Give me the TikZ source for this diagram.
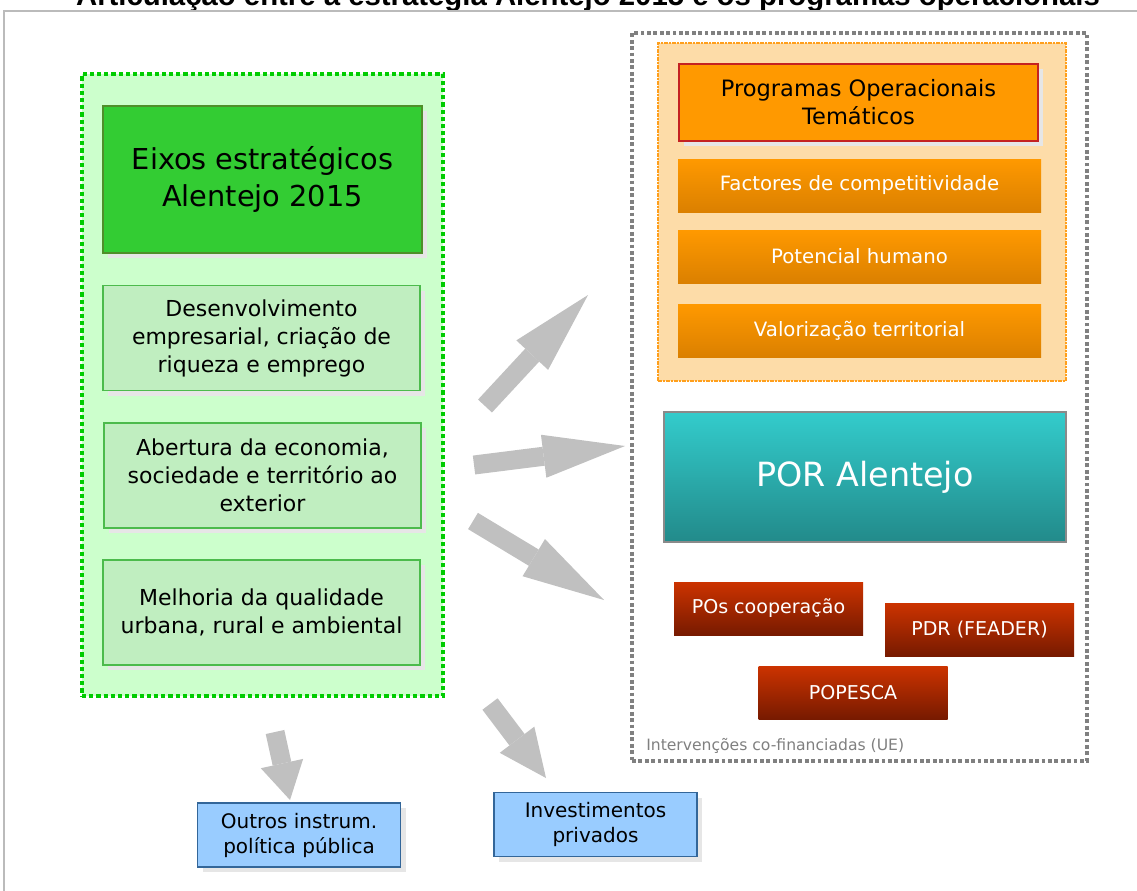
\documentclass[tikz,border=0pt]{standalone}
\usepackage{fontspec}
\setmainfont{DejaVu Sans}
\newfontfamily\titlefont{Liberation Sans}
\usepackage{tikz}
\usetikzlibrary{positioning,arrows.meta,shadows}

\definecolor{framegray}{HTML}{BBBBBB}
\definecolor{zonegreen}{HTML}{CCFFCC}
\definecolor{zonegreenline}{HTML}{00CC00}
\definecolor{headgreen}{HTML}{33CC33}
\definecolor{headgreenline}{HTML}{4F8F2A}
\definecolor{subgreen}{HTML}{C0EEC0}
\definecolor{subgreenline}{HTML}{4CBB4C}
\definecolor{shadowgray}{HTML}{E6E6E6}
\definecolor{zonegray}{HTML}{808080}
\definecolor{zoneorange}{HTML}{FDDCA8}
\definecolor{zoneorangeline}{HTML}{FF9F1C}
\definecolor{potop}{HTML}{FF9900}
\definecolor{potopline}{HTML}{C42222}
\definecolor{orangetop}{HTML}{FF9900}
\definecolor{orangebot}{HTML}{DB8000}
\definecolor{portop}{HTML}{33CCCC}
\definecolor{porbot}{HTML}{228A8A}
\definecolor{porline}{HTML}{8A8A8A}
\definecolor{redtop}{HTML}{CC3300}
\definecolor{redbot}{HTML}{771A00}
\definecolor{bluebox}{HTML}{99CCFF}
\definecolor{blueboxline}{HTML}{336699}
\definecolor{arrowgray}{HTML}{C0C0C0}

\newlength{\pxu}
\setlength{\pxu}{0.75pt}

\tikzset{
  box/.style={rectangle, inner sep=0pt, align=center},
  shadowed/.style={drop shadow={shadow xshift=3.75pt, shadow yshift=-3.75pt, fill=shadowgray, opacity=1}},
  eixo/.style={box, shadowed, draw=subgreenline, fill=subgreen, line width=1.1pt,
               minimum width=317*\pxu, minimum height=105*\pxu, font=\fontsize{16.5}{21}\selectfont},
  tema/.style={box, top color=orangetop, bottom color=orangebot, text=white,
               minimum width=363*\pxu, minimum height=53*\pxu, font=\fontsize{14.8}{18}\selectfont},
  fundo/.style={box, top color=redtop, bottom color=redbot, text=white,
                minimum width=189*\pxu, minimum height=53*\pxu, font=\fontsize{14.3}{18}\selectfont},
  outro/.style={box, shadowed, draw=blueboxline, fill=bluebox, line width=1.1pt,
                minimum width=203*\pxu, minimum height=64*\pxu, font=\fontsize{15}{18.75}\selectfont},
  seta/.style={line width=14.25pt, draw=arrowgray, -{Triangle[length=#1, width=32.5pt, line width=0pt]}},
  seta/.default=61.5pt,
}

\begin{document}
\begin{tikzpicture}[x=0.75pt, y=-0.75pt]
  \useasboundingbox (0,0) rectangle (1137,890);
  \fill[white] (0,0) rectangle (1137,890);
  \clip (0,0) rectangle (1137,890);

  \node[anchor=base, font=\titlefont\bfseries\fontsize{22}{26}\selectfont] (titulo) at (588,5)
    {Articulação entre a estratégia Alentejo 2015 e os programas operacionais};
  \draw[framegray, line width=1.5pt] (4,900) -- (4,11) -- (1150,11);

  % eixos estrategicos
  \node[box, fill=zonegreen, draw=zonegreenline, line width=3pt, dash pattern=on 3.2pt off 2.2pt,
        minimum width=361*\pxu, minimum height=622*\pxu] (eixos) at (262.5,385) {};
  \node[box, shadowed, fill=headgreen, draw=headgreenline, line width=1.1pt,
        minimum width=319*\pxu, minimum height=147*\pxu, font=\fontsize{21.6}{27.75}\selectfont]
        (cabeca) at (262.5,179.5) {Eixos estratégicos\\Alentejo 2015};
  \node[eixo] (eixo1) at (261.5,338) {Desenvolvimento\\empresarial, criação de\\riqueza e emprego};
  \node[eixo] (eixo2) at (262.5,475.5) {Abertura da economia,\\sociedade e território ao\\exterior};
  \node[eixo] (eixo3) at (261.5,612.5) {Melhoria da qualidade\\urbana, rural e ambiental};

  % intervencoes co-financiadas
  \node[box, draw=zonegray, line width=2.5pt, dash pattern=on 2.8pt off 2pt,
        minimum width=455*\pxu, minimum height=728*\pxu] (ue) at (859.5,397) {};
  \node[box, fill=zoneorange, draw=zoneorangeline, line width=0.8pt,
        dash pattern=on 3pt off 1pt on 1pt off 1pt,
        minimum width=408*\pxu, minimum height=338*\pxu] (temas) at (862,212) {};
  \node[box, shadowed, fill=potop, draw=potopline, line width=1.1pt,
        minimum width=359*\pxu, minimum height=77*\pxu, font=\fontsize{16.9}{21}\selectfont]
        (pot) at (858.5,102.5) {Programas Operacionais\\Temáticos};
  \node[tema] (factores) at (859.5,185.5) {Factores de competitividade};
  \node[tema] (potencial) at (859.5,256.5) {Potencial humano};
  \node[tema] (valorizacao) at (859.5,330.5) {Valorização territorial};
  \node[box, top color=portop, bottom color=porbot, draw=porline, line width=1pt, text=white,
        minimum width=402*\pxu, minimum height=130*\pxu, font=\fontsize{25}{30}\selectfont]
        (por) at (865,477) {POR Alentejo};
  \node[fundo] (coop) at (768.5,608.5) {POs cooperação};
  \node[fundo] (pdr) at (979.5,629.5) {PDR (FEADER)};
  \node[fundo] (popesca) at (853,692.5) {POPESCA};
  \node[anchor=base west, inner sep=0pt, text=zonegray, font=\fontsize{11.7}{14}\selectfont]
        (uelab) at (646,750) {Intervenções co-financiadas (UE)};

  % fora dos fundos
  \node[outro] (outros) at (299,835) {Outros instrum.\\política pública};
  \node[outro] (privados) at (595.5,824.5) {Investimentos\\privados};

  % setas
  \coordinate (s1) at (485,406);  \coordinate (t1) at (588,295);
  \coordinate (s2) at (474,465);  \coordinate (t2) at (625,446);
  \coordinate (s3) at (473,521);  \coordinate (t3) at (604,600);
  \coordinate (s4) at (275,732);  \coordinate (t4) at (290,800);
  \coordinate (s5) at (490,704);  \coordinate (t5) at (546,778);
  \draw[seta] (s1) -- (t1);
  \draw[seta] (s2) -- (t2);
  \draw[seta] (s3) -- (t3);
  \draw[seta=28pt] (s4) -- (t4);
  \draw[seta=36pt] (s5) -- (t5);
\end{tikzpicture}
\end{document}
